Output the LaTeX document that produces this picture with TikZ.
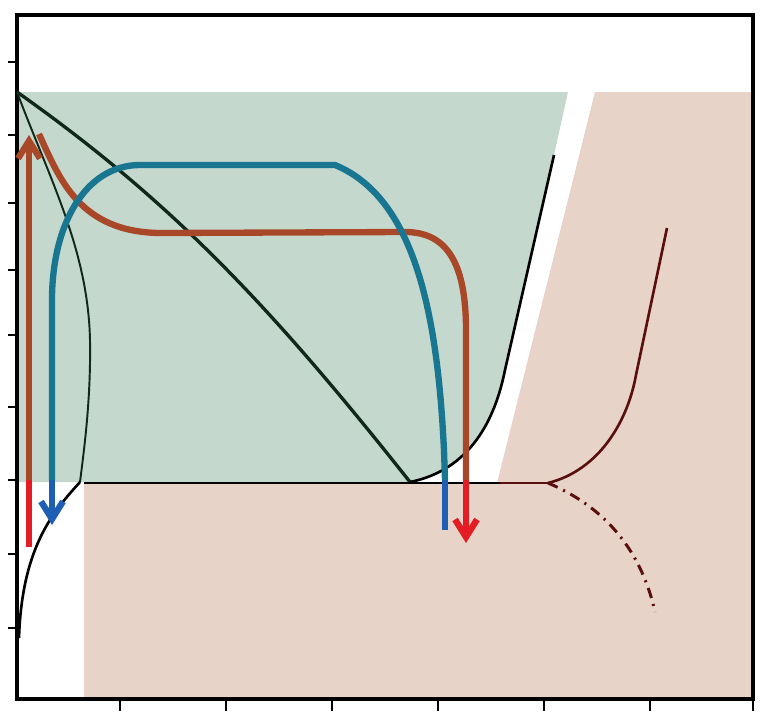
\documentclass[tikz,border=0pt]{standalone}
\usetikzlibrary{arrows.meta}
\definecolor{sage}{RGB}{197,216,205}
\definecolor{blush}{RGB}{232,211,200}
\definecolor{tealflow}{RGB}{25,118,145}
\definecolor{blueflow}{RGB}{30,95,180}
\definecolor{rust}{RGB}{168,72,40}
\definecolor{redflow}{RGB}{228,28,36}
\definecolor{pine}{RGB}{15,40,25}
\definecolor{maroon}{RGB}{90,15,15}
\begin{document}
\begin{tikzpicture}[x=0.02cm,y=-0.02cm,>={Straight Barb[length=10pt,width=12.5pt]},
  curve/.style={line width=1.5pt}, flow/.style={line width=3.6pt}]
\useasboundingbox (0,0) rectangle (779,721);
\coordinate (apex) at (17,92);
\coordinate (tp) at (410,482);
\coordinate (cp) at (548,483);
\fill[sage] (apex) -- (568,92) -- (554,155) -- (505,370) .. controls (495,420) and (470,470) .. (tp) -- (17,482) -- cycle;
\fill[blush] (595,92) -- (753,92) -- (753,699) -- (84,699) -- (84,483) -- (497,483) -- cycle;
\draw[line width=2.3pt] (17,15) rectangle (753,699);
\foreach \y in {62,135,203,270,335,407,480,554,628}
  \draw[line width=1.2pt] (8,\y) -- (17,\y);
\foreach \x in {120,226,332,438,544,650,753}
  \draw[line width=1.2pt] (\x,699) -- (\x,711);
\draw[line width=1.9pt,pine] (apex) .. controls (170,200) and (270,305) .. (tp);
\draw[line width=1.1pt,pine] (apex) .. controls (50,180) and (88,250) .. (90,340) .. controls (91,400) and (84,450) .. (80,482);
\draw[curve] (80,482) .. controls (55,510) and (22,545) .. (19,638);
\draw[curve] (tp) .. controls (470,470) and (495,420) .. (505,370) -- (554,155);
\draw[curve] (84,483) -- (500,483);
\draw[curve,maroon] (500,483) -- (cp);
\draw[curve,maroon] (cp) .. controls (600,470) and (628,420) .. (636,375) -- (667,228);
\draw[line width=1.7pt,maroon,dash pattern=on 6pt off 3.5pt on 1.2pt off 3.5pt] (cp) .. controls (600,505) and (640,545) .. (655,612);
\draw[flow,redflow] (29,547) -- (29,480);
\draw[flow,rust,->] (29,480) -- (29,135);
\draw[flow,rust] (39,134) .. controls (60,180) and (80,232) .. (160,233) -- (405,232) .. controls (445,232) and (466,260) .. (466,330) -- (466,480);
\draw[flow,redflow,->] (466,480) -- (466,543);
\draw[flow,tealflow] (445,480) -- (444,450) .. controls (438,330) and (420,200) .. (335,165) -- (140,165) .. controls (85,165) and (52,225) .. (52,300) -- (52,480);
\draw[flow,blueflow,->] (52,480) -- (52,525);
\draw[flow,blueflow] (445,480) -- (445,530);
\end{tikzpicture}
\end{document}
